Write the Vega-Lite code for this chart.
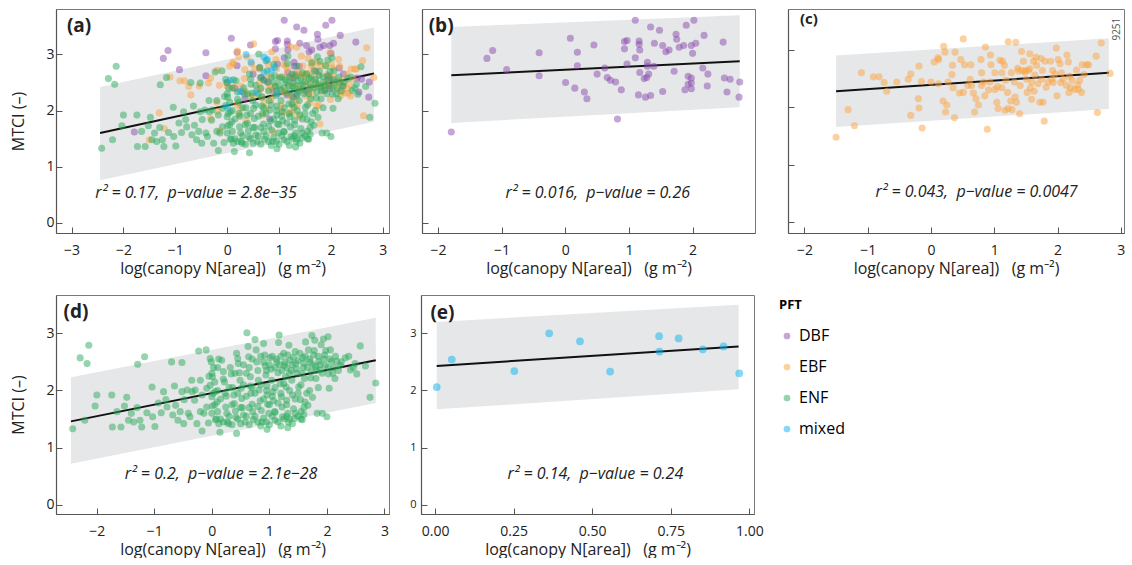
{
"$schema": "https://vega.github.io/schema/vega-lite/v6.json",
"padding": {"left": 10, "top": 8, "right": 0, "bottom": 0},
"config": {
  "font": "Open Sans",
  "view": {"stroke": "#7a7a7a", "strokeWidth": 1},
  "axis": {"grid": false, "domainColor": "#555555", "domainWidth": 1.2, "tickColor": "#555555", "tickSize": -6, "labelColor": "#222222", "labelFontSize": 14, "titleFontSize": 16, "titleFontWeight": "normal", "titleColor": "#222222", "labelFlush": false},
  "axisX": {"labelPadding": 16, "titlePadding": 3},
  "axisY": {"labelPadding": 8, "titlePadding": 19}
},
"datasets": {
"fits": [
{"panel":"a","x":-2.45,"lo":0.76,"hi":2.42,"fit":1.60},{"panel":"a","x":2.83,"lo":1.80,"hi":3.48,"fit":2.66},
{"panel":"b","x":-1.79,"lo":1.78,"hi":3.49,"fit":2.63},{"panel":"b","x":2.74,"lo":2.06,"hi":3.70,"fit":2.88},
{"panel":"c","x":-1.50,"lo":1.66,"hi":2.90,"fit":2.28},{"panel":"c","x":2.81,"lo":1.97,"hi":3.20,"fit":2.60},
{"panel":"d","x":-2.45,"lo":0.72,"hi":2.23,"fit":1.46},{"panel":"d","x":2.85,"lo":1.78,"hi":3.27,"fit":2.53},
{"panel":"e","x":0.005,"lo":1.67,"hi":3.20,"fit":2.43},{"panel":"e","x":0.966,"lo":2.02,"hi":3.50,"fit":2.77}
],
"notes": [
{"panel":"a","kind":"stat","x":-0.60,"y":0.535,"label":"r² = 0.17,\u00a0\u00a0p−value = 2.8e−35"},
{"panel":"b","kind":"stat","x":0.51,"y":0.535,"label":"r² = 0.016,\u00a0\u00a0p−value = 0.26"},
{"panel":"c","kind":"stat","x":0.72,"y":0.52,"label":"r² = 0.043,\u00a0\u00a0p−value = 0.0047"},
{"panel":"d","kind":"stat","x":0.16,"y":0.54,"label":"r² = 0.2,\u00a0\u00a0p−value = 2.1e−28"},
{"panel":"e","kind":"stat","x":0.51,"y":0.54,"label":"r² = 0.14,\u00a0\u00a0p−value = 0.24"},
{"panel":"a","kind":"tag","x":-3.09,"y":3.51,"label":"(a)"},
{"panel":"b","kind":"tag","x":-2.145,"y":3.51,"label":"(b)"},
{"panel":"c","kind":"tag","x":-2.07,"y":3.53,"label":"(c)"},
{"panel":"d","kind":"tag","x":-2.58,"y":3.38,"label":"(d)"},
{"panel":"e","kind":"tag","x":-0.015,"y":3.35,"label":"(e)"},
{"panel":"c","kind":"id","x":3.02,"y":3.36,"label":"9251"}
],
"pts": [
{"pft":"DBF","x":-1.79,"y":1.62},{"pft":"DBF","x":-1.23,"y":2.93},{"pft":"DBF","x":-1.14,"y":3.07},{"pft":"DBF","x":-0.92,"y":2.73},{"pft":"DBF","x":-0.41,"y":3.03},{"pft":"DBF","x":-0.41,"y":2.62},{"pft":"DBF","x":0.08,"y":3.29},{"pft":"DBF","x":0.19,"y":3.04},{"pft":"DBF","x":0.19,"y":2.80},{"pft":"DBF","x":0.005,"y":2.50},{"pft":"DBF","x":0.15,"y":2.40},{"pft":"DBF","x":0.30,"y":2.33},{"pft":"DBF","x":0.34,"y":2.21},{"pft":"DBF","x":0.45,"y":3.17},{"pft":"DBF","x":0.50,"y":2.65},{"pft":"DBF","x":0.62,"y":2.76},{"pft":"DBF","x":0.66,"y":2.59},{"pft":"DBF","x":0.71,"y":2.54},{"pft":"DBF","x":0.79,"y":2.51},{"pft":"DBF","x":0.88,"y":2.37},{"pft":"DBF","x":0.82,"y":1.85},{"pft":"DBF","x":0.93,"y":3.10},{"pft":"DBF","x":0.97,"y":3.25},{"pft":"DBF","x":0.93,"y":3.23},{"pft":"DBF","x":0.97,"y":2.83},{"pft":"DBF","x":1.10,"y":3.61},{"pft":"DBF","x":1.10,"y":2.94},{"pft":"DBF","x":1.16,"y":3.24},{"pft":"DBF","x":1.16,"y":3.18},{"pft":"DBF","x":1.17,"y":3.08},{"pft":"DBF","x":1.17,"y":2.68},{"pft":"DBF","x":1.15,"y":2.28},{"pft":"DBF","x":1.24,"y":2.57},{"pft":"DBF","x":1.26,"y":2.24},{"pft":"DBF","x":1.29,"y":2.86},{"pft":"DBF","x":1.29,"y":2.79},{"pft":"DBF","x":1.31,"y":2.65},{"pft":"DBF","x":1.28,"y":2.59},{"pft":"DBF","x":1.34,"y":2.27},{"pft":"DBF","x":1.34,"y":3.49},{"pft":"DBF","x":1.40,"y":3.20},{"pft":"DBF","x":1.39,"y":2.79},{"pft":"DBF","x":1.48,"y":3.43},{"pft":"DBF","x":1.53,"y":3.16},{"pft":"DBF","x":1.58,"y":3.05},{"pft":"DBF","x":1.63,"y":3.08},{"pft":"DBF","x":1.53,"y":2.34},{"pft":"DBF","x":1.71,"y":2.70},{"pft":"DBF","x":1.74,"y":3.36},{"pft":"DBF","x":1.75,"y":3.27},{"pft":"DBF","x":1.79,"y":3.13},{"pft":"DBF","x":1.86,"y":3.16},{"pft":"DBF","x":1.90,"y":3.52},{"pft":"DBF","x":2.02,"y":3.61},{"pft":"DBF","x":1.93,"y":2.61},{"pft":"DBF","x":1.98,"y":2.58},{"pft":"DBF","x":1.93,"y":2.47},{"pft":"DBF","x":1.98,"y":2.49},{"pft":"DBF","x":1.88,"y":2.37},{"pft":"DBF","x":1.98,"y":2.39},{"pft":"DBF","x":2.00,"y":3.02},{"pft":"DBF","x":1.98,"y":3.16},{"pft":"DBF","x":2.05,"y":3.20},{"pft":"DBF","x":2.18,"y":3.34},{"pft":"DBF","x":2.16,"y":2.76},{"pft":"DBF","x":2.24,"y":2.65},{"pft":"DBF","x":2.23,"y":2.44},{"pft":"DBF","x":2.48,"y":3.22},{"pft":"DBF","x":2.50,"y":2.58},{"pft":"DBF","x":2.59,"y":2.56},{"pft":"DBF","x":2.54,"y":2.33},{"pft":"DBF","x":2.74,"y":2.51},{"pft":"DBF","x":2.73,"y":2.24},
{"pft":"EBF","x":-1.50,"y":1.48},{"pft":"EBF","x":-1.31,"y":1.96},{"pft":"EBF","x":-1.21,"y":1.68},{"pft":"EBF","x":-1.10,"y":2.60},{"pft":"EBF","x":-0.91,"y":2.53},{"pft":"EBF","x":-0.82,"y":2.53},{"pft":"EBF","x":-0.74,"y":2.43},{"pft":"EBF","x":-0.70,"y":2.28},{"pft":"EBF","x":-0.54,"y":2.44},{"pft":"EBF","x":-0.36,"y":2.49},{"pft":"EBF","x":-0.32,"y":2.58},{"pft":"EBF","x":-0.32,"y":1.86},{"pft":"EBF","x":-0.19,"y":2.72},{"pft":"EBF","x":-0.20,"y":2.15},{"pft":"EBF","x":-0.19,"y":1.99},{"pft":"EBF","x":-0.15,"y":2.45},{"pft":"EBF","x":-0.14,"y":1.64},{"pft":"EBF","x":0.00,"y":2.44},{"pft":"EBF","x":0.05,"y":2.79},{"pft":"EBF","x":0.11,"y":2.86},{"pft":"EBF","x":0.12,"y":2.83},{"pft":"EBF","x":0.20,"y":3.06},{"pft":"EBF","x":0.22,"y":2.96},{"pft":"EBF","x":0.19,"y":2.11},{"pft":"EBF","x":0.23,"y":1.92},{"pft":"EBF","x":0.25,"y":2.04},{"pft":"EBF","x":0.27,"y":2.44},{"pft":"EBF","x":0.33,"y":2.57},{"pft":"EBF","x":0.35,"y":2.34},{"pft":"EBF","x":0.37,"y":1.82},{"pft":"EBF","x":0.38,"y":2.96},{"pft":"EBF","x":0.45,"y":2.25},{"pft":"EBF","x":0.47,"y":2.83},{"pft":"EBF","x":0.51,"y":3.19},{"pft":"EBF","x":0.53,"y":2.74},{"pft":"EBF","x":0.51,"y":2.26},{"pft":"EBF","x":0.63,"y":2.74},{"pft":"EBF","x":0.62,"y":2.49},{"pft":"EBF","x":0.64,"y":2.38},{"pft":"EBF","x":0.67,"y":2.25},{"pft":"EBF","x":0.71,"y":2.15},{"pft":"EBF","x":0.69,"y":1.92},{"pft":"EBF","x":0.79,"y":2.83},{"pft":"EBF","x":0.80,"y":2.60},{"pft":"EBF","x":0.80,"y":2.38},{"pft":"EBF","x":0.85,"y":2.20},{"pft":"EBF","x":0.86,"y":3.05},{"pft":"EBF","x":0.89,"y":1.62},{"pft":"EBF","x":0.94,"y":2.91},{"pft":"EBF","x":0.95,"y":2.74},{"pft":"EBF","x":0.91,"y":2.30},{"pft":"EBF","x":0.93,"y":2.44},{"pft":"EBF","x":1.01,"y":2.60},{"pft":"EBF","x":1.01,"y":2.31},{"pft":"EBF","x":1.04,"y":2.09},{"pft":"EBF","x":1.05,"y":2.36},{"pft":"EBF","x":1.06,"y":1.98},{"pft":"EBF","x":1.09,"y":2.82},{"pft":"EBF","x":1.12,"y":2.60},{"pft":"EBF","x":1.12,"y":2.34},{"pft":"EBF","x":1.13,"y":2.80},{"pft":"EBF","x":1.16,"y":2.73},{"pft":"EBF","x":1.18,"y":2.47},{"pft":"EBF","x":1.21,"y":2.26},{"pft":"EBF","x":1.22,"y":3.14},{"pft":"EBF","x":1.22,"y":1.98},{"pft":"EBF","x":1.27,"y":2.60},{"pft":"EBF","x":1.28,"y":1.96},{"pft":"EBF","x":1.32,"y":2.44},{"pft":"EBF","x":1.33,"y":2.18},{"pft":"EBF","x":1.34,"y":3.13},{"pft":"EBF","x":1.37,"y":2.68},{"pft":"EBF","x":1.38,"y":2.63},{"pft":"EBF","x":1.41,"y":2.38},{"pft":"EBF","x":1.40,"y":1.89},{"pft":"EBF","x":1.43,"y":2.97},{"pft":"EBF","x":1.46,"y":2.80},{"pft":"EBF","x":1.48,"y":2.61},{"pft":"EBF","x":1.49,"y":2.64},{"pft":"EBF","x":1.51,"y":2.49},{"pft":"EBF","x":1.52,"y":2.26},{"pft":"EBF","x":1.54,"y":2.64},{"pft":"EBF","x":1.56,"y":2.93},{"pft":"EBF","x":1.57,"y":2.34},{"pft":"EBF","x":1.59,"y":2.14},{"pft":"EBF","x":1.62,"y":2.80},{"pft":"EBF","x":1.64,"y":2.56},{"pft":"EBF","x":1.66,"y":2.87},{"pft":"EBF","x":1.67,"y":2.73},{"pft":"EBF","x":1.69,"y":2.41},{"pft":"EBF","x":1.72,"y":2.09},{"pft":"EBF","x":1.74,"y":2.85},{"pft":"EBF","x":1.75,"y":2.49},{"pft":"EBF","x":1.76,"y":2.64},{"pft":"EBF","x":1.79,"y":1.76},{"pft":"EBF","x":1.80,"y":2.80},{"pft":"EBF","x":1.82,"y":2.35},{"pft":"EBF","x":1.85,"y":2.44},{"pft":"EBF","x":1.89,"y":2.80},{"pft":"EBF","x":1.91,"y":2.49},{"pft":"EBF","x":1.92,"y":2.64},{"pft":"EBF","x":1.93,"y":2.43},{"pft":"EBF","x":1.96,"y":2.58},{"pft":"EBF","x":1.98,"y":3.03},{"pft":"EBF","x":1.99,"y":2.20},{"pft":"EBF","x":2.04,"y":2.76},{"pft":"EBF","x":2.05,"y":2.43},{"pft":"EBF","x":2.06,"y":2.60},{"pft":"EBF","x":2.09,"y":2.49},{"pft":"EBF","x":2.15,"y":2.91},{"pft":"EBF","x":2.17,"y":2.79},{"pft":"EBF","x":2.18,"y":2.26},{"pft":"EBF","x":2.19,"y":2.54},{"pft":"EBF","x":2.21,"y":2.34},{"pft":"EBF","x":2.23,"y":2.47},{"pft":"EBF","x":2.27,"y":2.31},{"pft":"EBF","x":2.30,"y":2.65},{"pft":"EBF","x":2.32,"y":2.39},{"pft":"EBF","x":2.33,"y":2.31},{"pft":"EBF","x":2.35,"y":2.47},{"pft":"EBF","x":2.38,"y":2.26},{"pft":"EBF","x":2.39,"y":2.74},{"pft":"EBF","x":2.42,"y":2.57},{"pft":"EBF","x":2.46,"y":2.74},{"pft":"EBF","x":2.49,"y":2.74},{"pft":"EBF","x":2.61,"y":2.89},{"pft":"EBF","x":2.63,"y":1.91},{"pft":"EBF","x":2.69,"y":3.12},{"pft":"EBF","x":2.83,"y":2.59},{"pft":"EBF","x":1.44,"y":2.64},{"pft":"EBF","x":1.56,"y":2.67},{"pft":"EBF","x":1.63,"y":2.28},{"pft":"EBF","x":1.59,"y":2.44},{"pft":"EBF","x":1.77,"y":2.09},{"pft":"EBF","x":2.01,"y":2.83},{"pft":"EBF","x":2.14,"y":2.38},{"pft":"EBF","x":1.35,"y":2.09},{"pft":"EBF","x":1.26,"y":2.11},{"pft":"EBF","x":1.17,"y":1.95},{"pft":"EBF","x":0.75,"y":2.04},{"pft":"EBF","x":0.58,"y":2.38},{"pft":"EBF","x":0.34,"y":2.73},{"pft":"EBF","x":0.12,"y":2.41},{"pft":"EBF","x":0.83,"y":2.44},
{"pft":"ENF","x":-2.42,"y":1.33},{"pft":"ENF","x":-2.29,"y":2.57},{"pft":"ENF","x":-2.17,"y":2.47},{"pft":"ENF","x":-2.14,"y":2.79},{"pft":"ENF","x":-2.21,"y":1.48},{"pft":"ENF","x":-2.03,"y":1.73},{"pft":"ENF","x":-2.00,"y":1.92},{"pft":"ENF","x":-1.74,"y":1.92},{"pft":"ENF","x":-1.73,"y":1.36},{"pft":"ENF","x":-1.65,"y":1.63},{"pft":"ENF","x":-1.58,"y":1.36},{"pft":"ENF","x":-1.52,"y":1.73},{"pft":"ENF","x":-1.48,"y":1.88},{"pft":"ENF","x":-1.45,"y":1.48},{"pft":"ENF","x":-1.40,"y":1.60},{"pft":"ENF","x":-1.36,"y":1.45},{"pft":"ENF","x":-1.30,"y":1.70},{"pft":"ENF","x":-1.29,"y":2.46},{"pft":"ENF","x":-1.25,"y":1.48},{"pft":"ENF","x":-1.22,"y":1.36},{"pft":"ENF","x":-1.17,"y":2.59},{"pft":"ENF","x":-1.13,"y":1.61},{"pft":"ENF","x":-1.04,"y":2.06},{"pft":"ENF","x":-1.03,"y":1.54},{"pft":"ENF","x":-0.99,"y":1.37},{"pft":"ENF","x":-0.93,"y":1.78},{"pft":"ENF","x":-0.88,"y":1.61},{"pft":"ENF","x":-0.84,"y":1.98},{"pft":"ENF","x":-0.80,"y":1.84},{"pft":"ENF","x":-0.78,"y":1.71},{"pft":"ENF","x":-0.70,"y":2.50},{"pft":"ENF","x":-0.68,"y":1.57},{"pft":"ENF","x":-0.65,"y":2.08},{"pft":"ENF","x":-0.63,"y":1.74},{"pft":"ENF","x":-0.59,"y":1.48},{"pft":"ENF","x":-0.55,"y":1.63},{"pft":"ENF","x":-0.52,"y":2.49},{"pft":"ENF","x":-0.52,"y":1.98},{"pft":"ENF","x":-0.49,"y":1.42},{"pft":"ENF","x":-0.48,"y":1.84},{"pft":"ENF","x":-0.43,"y":2.01},{"pft":"ENF","x":-0.41,"y":1.60},{"pft":"ENF","x":-0.38,"y":1.54},{"pft":"ENF","x":-0.35,"y":2.18},{"pft":"ENF","x":-0.34,"y":1.98},{"pft":"ENF","x":-0.30,"y":1.83},{"pft":"ENF","x":-0.29,"y":2.01},{"pft":"ENF","x":-0.26,"y":1.42},{"pft":"ENF","x":-0.23,"y":2.69},{"pft":"ENF","x":-0.20,"y":2.18},{"pft":"ENF","x":-0.20,"y":1.63},{"pft":"ENF","x":-0.17,"y":1.92},{"pft":"ENF","x":-0.17,"y":1.29},{"pft":"ENF","x":-0.14,"y":1.60},{"pft":"ENF","x":-0.10,"y":2.71},{"pft":"ENF","x":-0.09,"y":2.04},{"pft":"ENF","x":-0.09,"y":1.71},{"pft":"ENF","x":-0.06,"y":1.43},
{"pft":"ENF","x":-0.03,"y":2.56},{"pft":"ENF","x":-0.01,"y":2.50},{"pft":"ENF","x":0.03,"y":2.40},{"pft":"ENF","x":0.01,"y":2.24},{"pft":"ENF","x":-0.03,"y":2.09},{"pft":"ENF","x":0.06,"y":1.98},{"pft":"ENF","x":0.00,"y":1.89},{"pft":"ENF","x":0.09,"y":1.80},{"pft":"ENF","x":0.01,"y":1.73},{"pft":"ENF","x":0.10,"y":1.63},{"pft":"ENF","x":0.06,"y":1.49},{"pft":"ENF","x":0.14,"y":1.27},{"pft":"ENF","x":0.12,"y":1.42},{"pft":"ENF","x":0.17,"y":2.53},{"pft":"ENF","x":0.20,"y":2.33},{"pft":"ENF","x":0.22,"y":2.15},{"pft":"ENF","x":0.23,"y":1.95},{"pft":"ENF","x":0.24,"y":1.71},{"pft":"ENF","x":0.26,"y":1.60},{"pft":"ENF","x":0.27,"y":1.45},{"pft":"ENF","x":0.29,"y":1.42},{"pft":"ENF","x":0.32,"y":2.40},{"pft":"ENF","x":0.34,"y":2.29},{"pft":"ENF","x":0.36,"y":2.05},{"pft":"ENF","x":0.38,"y":1.92},{"pft":"ENF","x":0.39,"y":1.77},{"pft":"ENF","x":0.41,"y":1.64},{"pft":"ENF","x":0.42,"y":1.53},{"pft":"ENF","x":0.43,"y":2.65},{"pft":"ENF","x":0.45,"y":2.56},{"pft":"ENF","x":0.46,"y":2.47},{"pft":"ENF","x":0.48,"y":2.31},{"pft":"ENF","x":0.49,"y":2.18},{"pft":"ENF","x":0.43,"y":1.25},{"pft":"ENF","x":0.51,"y":2.04},{"pft":"ENF","x":0.52,"y":1.86},{"pft":"ENF","x":0.53,"y":1.70},{"pft":"ENF","x":0.55,"y":1.57},{"pft":"ENF","x":0.58,"y":1.45},{"pft":"ENF","x":0.61,"y":3.01},{"pft":"ENF","x":0.63,"y":2.77},{"pft":"ENF","x":0.64,"y":2.59},{"pft":"ENF","x":0.65,"y":2.40},{"pft":"ENF","x":0.67,"y":2.24},{"pft":"ENF","x":0.67,"y":2.08},{"pft":"ENF","x":0.68,"y":1.95},{"pft":"ENF","x":0.70,"y":1.76},{"pft":"ENF","x":0.71,"y":1.63},{"pft":"ENF","x":0.72,"y":1.49},{"pft":"ENF","x":0.75,"y":2.89},{"pft":"ENF","x":0.77,"y":2.71},{"pft":"ENF","x":0.78,"y":2.50},{"pft":"ENF","x":0.80,"y":2.35},{"pft":"ENF","x":0.81,"y":2.18},{"pft":"ENF","x":0.82,"y":2.01},{"pft":"ENF","x":0.84,"y":1.82},{"pft":"ENF","x":0.86,"y":1.65},{"pft":"ENF","x":0.87,"y":1.45},{"pft":"ENF","x":0.90,"y":2.82},{"pft":"ENF","x":0.92,"y":2.62},{"pft":"ENF","x":0.93,"y":2.43},{"pft":"ENF","x":0.94,"y":2.27},{"pft":"ENF","x":0.96,"y":2.08},{"pft":"ENF","x":0.96,"y":1.92},{"pft":"ENF","x":0.97,"y":1.76},{"pft":"ENF","x":0.99,"y":1.60},{"pft":"ENF","x":0.96,"y":1.32},{"pft":"ENF","x":1.01,"y":2.57},{"pft":"ENF","x":1.03,"y":2.37},{"pft":"ENF","x":1.04,"y":2.18},{"pft":"ENF","x":1.06,"y":1.98},{"pft":"ENF","x":1.07,"y":1.82},{"pft":"ENF","x":1.09,"y":1.63},{"pft":"ENF","x":1.10,"y":1.48},{"pft":"ENF","x":1.13,"y":2.50},{"pft":"ENF","x":1.15,"y":2.31},{"pft":"ENF","x":1.16,"y":2.84},{"pft":"ENF","x":1.17,"y":2.97},{"pft":"ENF","x":1.19,"y":2.12},{"pft":"ENF","x":1.21,"y":1.89},{"pft":"ENF","x":1.22,"y":1.71},{"pft":"ENF","x":1.23,"y":1.54},{"pft":"ENF","x":1.25,"y":2.65},{"pft":"ENF","x":1.26,"y":2.44},{"pft":"ENF","x":1.28,"y":2.24},{"pft":"ENF","x":1.29,"y":2.06},{"pft":"ENF","x":1.30,"y":1.83},{"pft":"ENF","x":1.32,"y":1.60},{"pft":"ENF","x":1.33,"y":1.45},{"pft":"ENF","x":1.34,"y":2.79},{"pft":"ENF","x":1.36,"y":2.53},{"pft":"ENF","x":1.38,"y":2.35},{"pft":"ENF","x":1.39,"y":2.18},{"pft":"ENF","x":1.40,"y":1.92},{"pft":"ENF","x":1.42,"y":1.68},{"pft":"ENF","x":1.44,"y":1.51},{"pft":"ENF","x":1.45,"y":2.68},{"pft":"ENF","x":1.46,"y":2.47},{"pft":"ENF","x":1.48,"y":2.30},{"pft":"ENF","x":1.51,"y":2.06},{"pft":"ENF","x":1.54,"y":1.84},{"pft":"ENF","x":1.55,"y":1.63},{"pft":"ENF","x":1.57,"y":1.49},{"pft":"ENF","x":1.58,"y":2.57},{"pft":"ENF","x":1.59,"y":2.40},{"pft":"ENF","x":1.61,"y":2.21},{"pft":"ENF","x":1.63,"y":2.85},{"pft":"ENF","x":1.65,"y":1.95},{"pft":"ENF","x":1.67,"y":1.74},{"pft":"ENF","x":1.68,"y":2.71},{"pft":"ENF","x":1.71,"y":2.50},{"pft":"ENF","x":1.73,"y":2.33},{"pft":"ENF","x":1.74,"y":2.96},{"pft":"ENF","x":1.77,"y":2.62},{"pft":"ENF","x":1.79,"y":2.88},{"pft":"ENF","x":1.80,"y":2.42},{"pft":"ENF","x":1.81,"y":2.21},{"pft":"ENF","x":1.83,"y":1.60},{"pft":"ENF","x":1.86,"y":2.51},{"pft":"ENF","x":1.88,"y":2.36},{"pft":"ENF","x":1.90,"y":2.80},{"pft":"ENF","x":1.92,"y":1.60},{"pft":"ENF","x":1.94,"y":2.90},{"pft":"ENF","x":1.96,"y":2.62},{"pft":"ENF","x":1.97,"y":2.44},{"pft":"ENF","x":2.00,"y":1.54},{"pft":"ENF","x":2.02,"y":2.94},{"pft":"ENF","x":2.03,"y":2.29},{"pft":"ENF","x":2.04,"y":2.04},{"pft":"ENF","x":2.06,"y":2.71},{"pft":"ENF","x":2.08,"y":2.51},{"pft":"ENF","x":2.12,"y":2.40},{"pft":"ENF","x":2.14,"y":2.21},{"pft":"ENF","x":2.17,"y":2.51},{"pft":"ENF","x":2.23,"y":2.44},{"pft":"ENF","x":2.32,"y":2.57},{"pft":"ENF","x":2.38,"y":2.60},{"pft":"ENF","x":2.41,"y":2.36},{"pft":"ENF","x":2.46,"y":2.40},{"pft":"ENF","x":2.49,"y":2.47},{"pft":"ENF","x":2.52,"y":2.29},{"pft":"ENF","x":2.58,"y":2.78},{"pft":"ENF","x":2.67,"y":2.43},{"pft":"ENF","x":2.75,"y":1.88},{"pft":"ENF","x":2.85,"y":2.13},
{"pft":"ENF","x":0.55,"y":2.45},{"pft":"ENF","x":0.60,"y":2.30},{"pft":"ENF","x":0.70,"y":2.55},{"pft":"ENF","x":0.85,"y":2.60},{"pft":"ENF","x":0.90,"y":2.50},{"pft":"ENF","x":0.95,"y":2.35},{"pft":"ENF","x":1.00,"y":2.45},{"pft":"ENF","x":1.05,"y":2.60},{"pft":"ENF","x":1.10,"y":2.40},{"pft":"ENF","x":1.12,"y":2.55},{"pft":"ENF","x":1.18,"y":2.45},{"pft":"ENF","x":1.20,"y":2.60},{"pft":"ENF","x":1.22,"y":2.35},{"pft":"ENF","x":1.27,"y":2.50},{"pft":"ENF","x":1.30,"y":2.40},{"pft":"ENF","x":1.32,"y":2.62},{"pft":"ENF","x":1.35,"y":2.30},{"pft":"ENF","x":1.40,"y":2.45},{"pft":"ENF","x":1.42,"y":2.58},{"pft":"ENF","x":1.47,"y":2.38},{"pft":"ENF","x":1.50,"y":2.52},{"pft":"ENF","x":1.53,"y":2.65},{"pft":"ENF","x":1.57,"y":2.30},{"pft":"ENF","x":1.60,"y":2.48},{"pft":"ENF","x":1.62,"y":2.60},{"pft":"ENF","x":1.66,"y":2.40},{"pft":"ENF","x":1.70,"y":2.55},{"pft":"ENF","x":1.72,"y":2.22},{"pft":"ENF","x":1.76,"y":2.45},{"pft":"ENF","x":1.78,"y":2.70},{"pft":"ENF","x":1.82,"y":2.35},{"pft":"ENF","x":1.85,"y":2.60},{"pft":"ENF","x":1.88,"y":2.45},{"pft":"ENF","x":1.92,"y":2.30},{"pft":"ENF","x":1.95,"y":2.55},{"pft":"ENF","x":1.98,"y":2.70},{"pft":"ENF","x":2.02,"y":2.40},{"pft":"ENF","x":2.05,"y":2.55},{"pft":"ENF","x":2.10,"y":2.30},{"pft":"ENF","x":2.15,"y":2.60},{"pft":"ENF","x":2.20,"y":2.35},{"pft":"ENF","x":2.25,"y":2.50},
{"pft":"ENF","x":0.15,"y":1.50},{"pft":"ENF","x":0.20,"y":1.45},{"pft":"ENF","x":0.30,"y":1.55},{"pft":"ENF","x":0.35,"y":1.40},{"pft":"ENF","x":0.45,"y":1.50},{"pft":"ENF","x":0.50,"y":1.42},{"pft":"ENF","x":0.60,"y":1.55},{"pft":"ENF","x":0.65,"y":1.40},{"pft":"ENF","x":0.75,"y":1.55},{"pft":"ENF","x":0.80,"y":1.45},{"pft":"ENF","x":0.85,"y":1.38},{"pft":"ENF","x":0.90,"y":1.52},{"pft":"ENF","x":0.95,"y":1.45},{"pft":"ENF","x":1.00,"y":1.40},{"pft":"ENF","x":1.05,"y":1.55},{"pft":"ENF","x":1.10,"y":1.62},{"pft":"ENF","x":1.15,"y":1.45},{"pft":"ENF","x":1.20,"y":1.38},{"pft":"ENF","x":1.25,"y":1.50},{"pft":"ENF","x":1.30,"y":1.55},{"pft":"ENF","x":1.32,"y":1.35},{"pft":"ENF","x":1.35,"y":1.50},{"pft":"ENF","x":1.40,"y":1.42},{"pft":"ENF","x":1.45,"y":1.60},{"pft":"ENF","x":1.50,"y":1.55},{"pft":"ENF","x":1.55,"y":1.50},{"pft":"ENF","x":1.60,"y":1.58},{"pft":"ENF","x":1.60,"y":1.70},
{"pft":"ENF","x":0.10,"y":2.00},{"pft":"ENF","x":0.15,"y":1.85},{"pft":"ENF","x":0.20,"y":2.20},{"pft":"ENF","x":0.25,"y":1.90},{"pft":"ENF","x":0.30,"y":2.05},{"pft":"ENF","x":0.35,"y":1.75},{"pft":"ENF","x":0.40,"y":2.30},{"pft":"ENF","x":0.45,"y":1.95},{"pft":"ENF","x":0.50,"y":1.70},{"pft":"ENF","x":0.55,"y":2.10},{"pft":"ENF","x":0.60,"y":1.90},{"pft":"ENF","x":0.65,"y":1.70},{"pft":"ENF","x":0.70,"y":2.05},{"pft":"ENF","x":0.75,"y":1.95},{"pft":"ENF","x":0.80,"y":1.72},{"pft":"ENF","x":0.85,"y":2.10},{"pft":"ENF","x":0.90,"y":1.85},{"pft":"ENF","x":0.95,"y":2.00},{"pft":"ENF","x":1.00,"y":1.75},{"pft":"ENF","x":1.05,"y":1.90},{"pft":"ENF","x":1.10,"y":2.05},{"pft":"ENF","x":1.15,"y":1.78},{"pft":"ENF","x":1.20,"y":1.95},{"pft":"ENF","x":1.25,"y":2.12},{"pft":"ENF","x":1.30,"y":1.75},{"pft":"ENF","x":1.35,"y":2.00},{"pft":"ENF","x":1.45,"y":1.85},{"pft":"ENF","x":1.50,"y":1.95},{"pft":"ENF","x":1.55,"y":2.10},{"pft":"ENF","x":1.62,"y":1.80},{"pft":"ENF","x":1.70,"y":2.00},{"pft":"ENF","x":1.75,"y":1.88},{"pft":"ENF","x":1.85,"y":2.05},
{"pft":"ENF","x":0.00,"y":2.30},{"pft":"ENF","x":0.05,"y":2.15},{"pft":"ENF","x":0.00,"y":1.60},{"pft":"ENF","x":0.05,"y":1.75},{"pft":"ENF","x":0.08,"y":1.50},{"pft":"ENF","x":0.02,"y":1.95},{"pft":"ENF","x":-0.05,"y":2.25},{"pft":"ENF","x":0.10,"y":2.40},{"pft":"ENF","x":0.12,"y":2.55},
{"pft":"mixed","x":0.005,"y":2.06},{"pft":"mixed","x":0.053,"y":2.54},{"pft":"mixed","x":0.252,"y":2.34},{"pft":"mixed","x":0.363,"y":3.00},{"pft":"mixed","x":0.461,"y":2.86},{"pft":"mixed","x":0.557,"y":2.33},{"pft":"mixed","x":0.713,"y":2.95},{"pft":"mixed","x":0.714,"y":2.68},{"pft":"mixed","x":0.775,"y":2.91},{"pft":"mixed","x":0.852,"y":2.72},{"pft":"mixed","x":0.918,"y":2.77},{"pft":"mixed","x":0.968,"y":2.30}
]
},
"vconcat": [
{"hconcat": [
 {"width": 333, "height": 224, "layer": [
  {"data": {"name": "fits"}, "transform": [{"filter": "datum.panel === 'a'"}], "mark": {"type": "area", "color": "#e6e7e8"},
   "encoding": {"x": {"field": "x", "type": "quantitative", "scale": {"domain": [-3.3, 3.12], "nice": false}, "axis": {"values": [-3,-2,-1,0,1,2,3], "format": "d", "title": "log(canopy N[area])\u00a0\u00a0\u00a0(g m⁻²)"}},
     "y": {"field": "hi", "type": "quantitative", "scale": {"domain": [-0.18, 3.81], "nice": false}, "axis": {"values": [0,1,2,3], "format": "d", "title": "MTCI (–)"}},
     "y2": {"field": "lo"}}},
  {"data": {"name": "fits"}, "transform": [{"filter": "datum.panel === 'a'"}], "mark": {"type": "line", "color": "#111111", "strokeWidth": 2},
   "encoding": {"x": {"field": "x", "type": "quantitative"}, "y": {"field": "fit", "type": "quantitative"}}},
  {"data": {"name": "pts"}, "mark": {"type": "circle", "size": 50},
   "encoding": {"x": {"field": "x", "type": "quantitative"}, "y": {"field": "y", "type": "quantitative"},
     "color": {"field": "pft", "type": "nominal", "scale": {"domain": ["DBF","EBF","ENF","mixed"], "range": ["#8a4bae","#fba340","#2aab5c","#08b3ee"]}, "legend": {"title": "PFT", "orient": "none", "legendX": 723, "legendY": 290, "titleFontSize": 13, "titleFontWeight": "bold", "labelFontSize": 16, "symbolSize": 45, "rowPadding": 15, "titlePadding": 16}},
     "opacity": {"field": "pft", "type": "nominal", "scale": {"domain": ["DBF","EBF","ENF","mixed"], "range": [0.5,0.5,0.5,1]}, "legend": {"title": "PFT", "orient": "none", "legendX": 723, "legendY": 290, "titleFontSize": 13, "titleFontWeight": "bold", "labelFontSize": 16, "symbolSize": 45, "rowPadding": 15, "titlePadding": 16}}}},
  {"data": {"name": "notes"}, "transform": [{"filter": "datum.panel === 'a' && datum.kind === 'stat'"}], "mark": {"type": "text", "fontStyle": "italic", "fontSize": 16, "color": "#222222"},
   "encoding": {"x": {"field": "x", "type": "quantitative"}, "y": {"field": "y", "type": "quantitative"}, "text": {"field": "label"}}},
  {"data": {"name": "notes"}, "transform": [{"filter": "datum.panel === 'a' && datum.kind === 'tag'"}], "mark": {"type": "text", "fontWeight": "bold", "fontSize": 19, "align": "left", "color": "#222222"},
   "encoding": {"x": {"field": "x", "type": "quantitative"}, "y": {"field": "y", "type": "quantitative"}, "text": {"field": "label"}}}
 ]},
 {"width": 333, "height": 224, "layer": [
  {"data": {"name": "fits"}, "transform": [{"filter": "datum.panel === 'b'"}], "mark": {"type": "area", "color": "#e6e7e8"},
   "encoding": {"x": {"field": "x", "type": "quantitative", "scale": {"domain": [-2.25, 2.98], "nice": false}, "axis": {"values": [-2,-1,0,1,2], "format": "d", "title": "log(canopy N[area])\u00a0\u00a0\u00a0(g m⁻²)"}},
     "y": {"field": "hi", "type": "quantitative", "scale": {"domain": [-0.18, 3.81], "nice": false}, "axis": {"values": [0,1,2,3], "labels": false, "title": null}},
     "y2": {"field": "lo"}}},
  {"data": {"name": "fits"}, "transform": [{"filter": "datum.panel === 'b'"}], "mark": {"type": "line", "color": "#111111", "strokeWidth": 2},
   "encoding": {"x": {"field": "x", "type": "quantitative"}, "y": {"field": "fit", "type": "quantitative"}}},
  {"data": {"name": "pts"}, "transform": [{"filter": "datum.pft === 'DBF'"}], "mark": {"type": "circle", "size": 50},
   "encoding": {"x": {"field": "x", "type": "quantitative"}, "y": {"field": "y", "type": "quantitative"},
     "color": {"field": "pft", "type": "nominal", "scale": {"domain": ["DBF","EBF","ENF","mixed"], "range": ["#8a4bae","#fba340","#2aab5c","#08b3ee"]}, "legend": {"title": "PFT", "orient": "none", "legendX": 723, "legendY": 290, "titleFontSize": 13, "titleFontWeight": "bold", "labelFontSize": 16, "symbolSize": 45, "rowPadding": 15, "titlePadding": 16}},
     "opacity": {"field": "pft", "type": "nominal", "scale": {"domain": ["DBF","EBF","ENF","mixed"], "range": [0.5,0.5,0.5,1]}, "legend": {"title": "PFT", "orient": "none", "legendX": 723, "legendY": 290, "titleFontSize": 13, "titleFontWeight": "bold", "labelFontSize": 16, "symbolSize": 45, "rowPadding": 15, "titlePadding": 16}}}},
  {"data": {"name": "notes"}, "transform": [{"filter": "datum.panel === 'b' && datum.kind === 'stat'"}], "mark": {"type": "text", "fontStyle": "italic", "fontSize": 16, "color": "#222222"},
   "encoding": {"x": {"field": "x", "type": "quantitative"}, "y": {"field": "y", "type": "quantitative"}, "text": {"field": "label"}}},
  {"data": {"name": "notes"}, "transform": [{"filter": "datum.panel === 'b' && datum.kind === 'tag'"}], "mark": {"type": "text", "fontWeight": "bold", "fontSize": 19, "align": "left", "color": "#222222"},
   "encoding": {"x": {"field": "x", "type": "quantitative"}, "y": {"field": "y", "type": "quantitative"}, "text": {"field": "label"}}}
 ]},
 {"width": 336, "height": 224, "layer": [
  {"data": {"name": "fits"}, "transform": [{"filter": "datum.panel === 'c'"}], "mark": {"type": "area", "color": "#e6e7e8"},
   "encoding": {"x": {"field": "x", "type": "quantitative", "scale": {"domain": [-2.26, 3.05], "nice": false}, "axis": {"values": [-2,-1,0,1,2,3], "format": "d", "title": "log(canopy N[area])\u00a0\u00a0\u00a0(g m⁻²)"}},
     "y": {"field": "hi", "type": "quantitative", "scale": {"domain": [-0.185, 3.71], "nice": false}, "axis": {"values": [0,1,2,3], "labels": false, "title": null}},
     "y2": {"field": "lo"}}},
  {"data": {"name": "fits"}, "transform": [{"filter": "datum.panel === 'c'"}], "mark": {"type": "line", "color": "#111111", "strokeWidth": 2},
   "encoding": {"x": {"field": "x", "type": "quantitative"}, "y": {"field": "fit", "type": "quantitative"}}},
  {"data": {"name": "pts"}, "transform": [{"filter": "datum.pft === 'EBF'"}], "mark": {"type": "circle", "size": 50},
   "encoding": {"x": {"field": "x", "type": "quantitative"}, "y": {"field": "y", "type": "quantitative"},
     "color": {"field": "pft", "type": "nominal", "scale": {"domain": ["DBF","EBF","ENF","mixed"], "range": ["#8a4bae","#fba340","#2aab5c","#08b3ee"]}, "legend": {"title": "PFT", "orient": "none", "legendX": 723, "legendY": 290, "titleFontSize": 13, "titleFontWeight": "bold", "labelFontSize": 16, "symbolSize": 45, "rowPadding": 15, "titlePadding": 16}},
     "opacity": {"field": "pft", "type": "nominal", "scale": {"domain": ["DBF","EBF","ENF","mixed"], "range": [0.5,0.5,0.5,1]}, "legend": {"title": "PFT", "orient": "none", "legendX": 723, "legendY": 290, "titleFontSize": 13, "titleFontWeight": "bold", "labelFontSize": 16, "symbolSize": 45, "rowPadding": 15, "titlePadding": 16}}}},
  {"data": {"name": "notes"}, "transform": [{"filter": "datum.panel === 'c' && datum.kind === 'stat'"}], "mark": {"type": "text", "fontStyle": "italic", "fontSize": 16, "color": "#222222"},
   "encoding": {"x": {"field": "x", "type": "quantitative"}, "y": {"field": "y", "type": "quantitative"}, "text": {"field": "label"}}},
  {"data": {"name": "notes"}, "transform": [{"filter": "datum.panel === 'c' && datum.kind === 'tag'"}], "mark": {"type": "text", "fontWeight": "bold", "fontSize": 15, "align": "left", "color": "#222222"},
   "encoding": {"x": {"field": "x", "type": "quantitative"}, "y": {"field": "y", "type": "quantitative"}, "text": {"field": "label"}}},
  {"data": {"name": "notes"}, "transform": [{"filter": "datum.panel === 'c' && datum.kind === 'id'"}], "mark": {"type": "text", "fontSize": 10, "angle": 270, "baseline": "bottom", "color": "#555555"},
   "encoding": {"x": {"field": "x", "type": "quantitative"}, "y": {"field": "y", "type": "quantitative"}, "text": {"field": "label"}}}
 ]}
], "spacing": 31},
{"hconcat": [
 {"width": 333, "height": 219, "layer": [
  {"data": {"name": "fits"}, "transform": [{"filter": "datum.panel === 'd'"}], "mark": {"type": "area", "color": "#e6e7e8"},
   "encoding": {"x": {"field": "x", "type": "quantitative", "scale": {"domain": [-2.71, 3.08], "nice": false}, "axis": {"values": [-2,-1,0,1,2,3], "format": "d", "title": "log(canopy N[area])\u00a0\u00a0\u00a0(g m⁻²)"}},
     "y": {"field": "hi", "type": "quantitative", "scale": {"domain": [-0.16, 3.67], "nice": false}, "axis": {"values": [0,1,2,3], "format": "d", "title": "MTCI (–)"}},
     "y2": {"field": "lo"}}},
  {"data": {"name": "fits"}, "transform": [{"filter": "datum.panel === 'd'"}], "mark": {"type": "line", "color": "#111111", "strokeWidth": 2},
   "encoding": {"x": {"field": "x", "type": "quantitative"}, "y": {"field": "fit", "type": "quantitative"}}},
  {"data": {"name": "pts"}, "transform": [{"filter": "datum.pft === 'ENF'"}], "mark": {"type": "circle", "size": 50},
   "encoding": {"x": {"field": "x", "type": "quantitative"}, "y": {"field": "y", "type": "quantitative"},
     "color": {"field": "pft", "type": "nominal", "scale": {"domain": ["DBF","EBF","ENF","mixed"], "range": ["#8a4bae","#fba340","#2aab5c","#08b3ee"]}, "legend": {"title": "PFT", "orient": "none", "legendX": 723, "legendY": 290, "titleFontSize": 13, "titleFontWeight": "bold", "labelFontSize": 16, "symbolSize": 45, "rowPadding": 15, "titlePadding": 16}},
     "opacity": {"field": "pft", "type": "nominal", "scale": {"domain": ["DBF","EBF","ENF","mixed"], "range": [0.5,0.5,0.5,1]}, "legend": {"title": "PFT", "orient": "none", "legendX": 723, "legendY": 290, "titleFontSize": 13, "titleFontWeight": "bold", "labelFontSize": 16, "symbolSize": 45, "rowPadding": 15, "titlePadding": 16}}}},
  {"data": {"name": "notes"}, "transform": [{"filter": "datum.panel === 'd' && datum.kind === 'stat'"}], "mark": {"type": "text", "fontStyle": "italic", "fontSize": 16, "color": "#222222"},
   "encoding": {"x": {"field": "x", "type": "quantitative"}, "y": {"field": "y", "type": "quantitative"}, "text": {"field": "label"}}},
  {"data": {"name": "notes"}, "transform": [{"filter": "datum.panel === 'd' && datum.kind === 'tag'"}], "mark": {"type": "text", "fontWeight": "bold", "fontSize": 19, "align": "left", "color": "#222222"},
   "encoding": {"x": {"field": "x", "type": "quantitative"}, "y": {"field": "y", "type": "quantitative"}, "text": {"field": "label"}}}
 ]},
 {"width": 333, "height": 219, "layer": [
  {"data": {"name": "fits"}, "transform": [{"filter": "datum.panel === 'e'"}], "mark": {"type": "area", "color": "#e6e7e8"},
   "encoding": {"x": {"field": "x", "type": "quantitative", "scale": {"domain": [-0.045, 1.015], "nice": false}, "axis": {"values": [0,0.25,0.5,0.75,1], "format": ".2f", "title": "log(canopy N[area])\u00a0\u00a0\u00a0(g m⁻²)"}},
     "y": {"field": "hi", "type": "quantitative", "scale": {"domain": [-0.16, 3.67], "nice": false}, "axis": {"values": [0,1,2,3], "format": "d", "labelFontSize": 11, "labelPadding": 11, "title": null}},
     "y2": {"field": "lo"}}},
  {"data": {"name": "fits"}, "transform": [{"filter": "datum.panel === 'e'"}], "mark": {"type": "line", "color": "#111111", "strokeWidth": 2},
   "encoding": {"x": {"field": "x", "type": "quantitative"}, "y": {"field": "fit", "type": "quantitative"}}},
  {"data": {"name": "pts"}, "transform": [{"filter": "datum.pft === 'mixed'"}], "mark": {"type": "circle", "size": 60},
   "encoding": {"x": {"field": "x", "type": "quantitative"}, "y": {"field": "y", "type": "quantitative"},
     "color": {"field": "pft", "type": "nominal", "scale": {"domain": ["DBF","EBF","ENF","mixed"], "range": ["#8a4bae","#fba340","#2aab5c","#08b3ee"]}, "legend": {"title": "PFT", "orient": "none", "legendX": 723, "legendY": 290, "titleFontSize": 13, "titleFontWeight": "bold", "labelFontSize": 16, "symbolSize": 45, "rowPadding": 15, "titlePadding": 16}},
     "opacity": {"field": "pft", "type": "nominal", "scale": {"domain": ["DBF","EBF","ENF","mixed"], "range": [0.5,0.5,0.5,1]}, "legend": {"title": "PFT", "orient": "none", "legendX": 723, "legendY": 290, "titleFontSize": 13, "titleFontWeight": "bold", "labelFontSize": 16, "symbolSize": 45, "rowPadding": 15, "titlePadding": 16}}}},
  {"data": {"name": "notes"}, "transform": [{"filter": "datum.panel === 'e' && datum.kind === 'stat'"}], "mark": {"type": "text", "fontStyle": "italic", "fontSize": 16, "color": "#222222"},
   "encoding": {"x": {"field": "x", "type": "quantitative"}, "y": {"field": "y", "type": "quantitative"}, "text": {"field": "label"}}},
  {"data": {"name": "notes"}, "transform": [{"filter": "datum.panel === 'e' && datum.kind === 'tag'"}], "mark": {"type": "text", "fontWeight": "bold", "fontSize": 19, "align": "left", "color": "#222222"},
   "encoding": {"x": {"field": "x", "type": "quantitative"}, "y": {"field": "y", "type": "quantitative"}, "text": {"field": "label"}}}
 ]}
], "spacing": 19}
],
"spacing": 17
}
